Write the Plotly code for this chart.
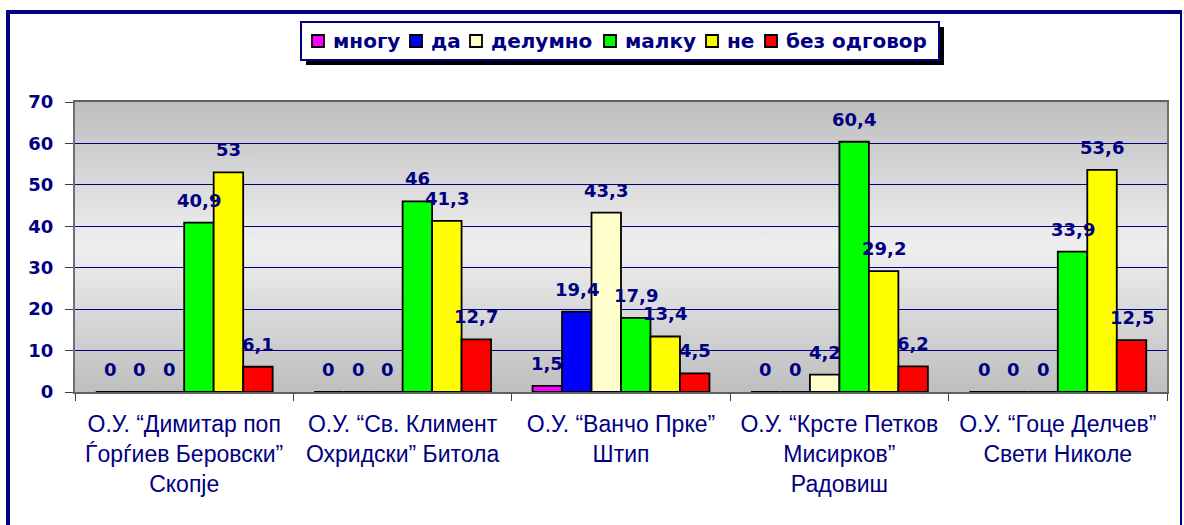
import base64
import plotly.graph_objects as go

# ---------------- data ----------------
categories = [
    "О.У. “Димитар поп<br>Ѓорѓиев Беровски”<br>Скопје",
    "О.У. “Св. Климент<br>Охридски” Битола",
    "О.У. “Ванчо Прке”<br>Штип",
    "О.У. “Крсте Петков<br>Мисирков”<br>Радовиш",
    "О.У. “Гоце Делчев”<br>Свети Николе",
]
series_names = ["многу", "да", "делумно", "малку", "не", "без одговор"]
mnogu = [0, 0, 1.5, 0, 0]
da = [0, 0, 19.4, 0, 0]
delumno = [0, 0, 43.3, 4.2, 0]
malku = [40.9, 46, 17.9, 60.4, 33.9]
ne = [53, 41.3, 13.4, 29.2, 53.6]
bez_odgovor = [6.1, 12.7, 4.5, 6.2, 12.5]
series_values = [mnogu, da, delumno, malku, ne, bez_odgovor]
series_colors = ["#FF00FF", "#0000FF", "#FFFFCC", "#00FF00", "#FFFF00", "#FF0000"]
y_ticks = [0, 10, 20, 30, 40, 50, 60, 70]

# ---------------- layout constants ----------------
W, H = 1184, 525
ML, MR, MT, MB = 75, 17, 102, 133
PW, PH = W - ML - MR, H - MT - MB
BARGAP = 0.19
NAVY = "#000080"
BOLD_FONT = "DejaVu Sans, sans-serif"
# legend box (pixels) and left edges of legend symbols (pixels)
LEG_X0, LEG_X1, LEG_Y0, LEG_Y1 = 301, 939, 22, 60
LEG_SYMBOL_X = [312, 410, 470, 604, 706, 765]
LEG_SYM = 12


def px_to_paper_x(px):
    return (px - ML) / PW


def px_to_paper_y(py):
    return (H - MB - py) / PH


def fmt(v):
    return ("%g" % v).replace(".", ",")


fig = go.Figure()
for name, vals, col in zip(series_names, series_values, series_colors):
    fig.add_trace(go.Bar(
        name=name, x=categories, y=vals,
        marker=dict(color=col, line=dict(color="black", width=1.8)),
        hoverinfo="skip", showlegend=False,
    ))

# data labels
cat_w = PW / len(categories)
bar_w = cat_w * (1 - BARGAP) / len(series_names)
annotations = []
for i, vals in enumerate(series_values):
    for cat, v in zip(categories, vals):
        annotations.append(dict(
            x=cat, y=v, xref="x", yref="y", text="<b>%s</b>" % fmt(v),
            showarrow=False, yanchor="bottom", xanchor="center",
            xshift=(i - (len(series_names) - 1) / 2) * bar_w, yshift=10,
            font=dict(family=BOLD_FONT, size=18, color=NAVY),
        ))

# gradient background for plot area
svg = ('<svg xmlns="http://www.w3.org/2000/svg" width="100" height="100" viewBox="0 0 100 100" '
       'preserveAspectRatio="none"><defs><linearGradient id="g" x1="0" y1="0" x2="0" y2="1">'
       '<stop offset="0" stop-color="#bebebe"/><stop offset="0.5" stop-color="#efefef"/>'
       '<stop offset="1" stop-color="#bebebe"/></linearGradient></defs>'
       '<rect x="0" y="0" width="100" height="100" fill="url(#g)"/></svg>')
src = "data:image/svg+xml;base64," + base64.b64encode(svg.encode()).decode()

shapes = [
    # outer frame (navy)
    dict(type="line", xref="paper", yref="paper", x0=px_to_paper_x(8), x1=px_to_paper_x(8),
         y0=px_to_paper_y(12), y1=px_to_paper_y(560), line=dict(color=NAVY, width=4)),
    dict(type="line", xref="paper", yref="paper", x0=px_to_paper_x(6), x1=px_to_paper_x(1182),
         y0=px_to_paper_y(12), y1=px_to_paper_y(12), line=dict(color=NAVY, width=4)),
    dict(type="line", xref="paper", yref="paper", x0=px_to_paper_x(1181), x1=px_to_paper_x(1181),
         y0=px_to_paper_y(12), y1=px_to_paper_y(560), line=dict(color=NAVY, width=2)),
    # legend shadow and box
    dict(type="rect", xref="paper", yref="paper",
         x0=px_to_paper_x(LEG_X0 + 5), x1=px_to_paper_x(LEG_X1 + 5),
         y0=px_to_paper_y(LEG_Y0 + 5), y1=px_to_paper_y(LEG_Y1 + 5),
         fillcolor="black", line=dict(width=0)),
    dict(type="rect", xref="paper", yref="paper",
         x0=px_to_paper_x(LEG_X0), x1=px_to_paper_x(LEG_X1),
         y0=px_to_paper_y(LEG_Y0), y1=px_to_paper_y(LEG_Y1),
         fillcolor="white", line=dict(color=NAVY, width=2)),
]

# legend entries (symbols + text) built from the series definitions
leg_cy = (LEG_Y0 + LEG_Y1) / 2
for name, col, sx in zip(series_names, series_colors, LEG_SYMBOL_X):
    shapes.append(dict(
        type="rect", xref="paper", yref="paper",
        x0=px_to_paper_x(sx), x1=px_to_paper_x(sx + LEG_SYM),
        y0=px_to_paper_y(leg_cy - LEG_SYM / 2), y1=px_to_paper_y(leg_cy + LEG_SYM / 2),
        fillcolor=col, line=dict(color="black", width=1.8),
    ))
    annotations.append(dict(
        x=px_to_paper_x(sx + LEG_SYM + 7), y=px_to_paper_y(leg_cy), xref="paper", yref="paper",
        text="<b>%s</b>" % name, showarrow=False, xanchor="left", yanchor="middle",
        font=dict(family=BOLD_FONT, size=20, color=NAVY),
    ))

fig.update_layout(
    width=W, height=H,
    margin=dict(l=ML, r=MR, t=MT, b=MB, pad=0),
    paper_bgcolor="white", plot_bgcolor="rgba(0,0,0,0)",
    barmode="group", bargap=BARGAP, bargroupgap=0,
    showlegend=False,
    images=[dict(source=src, xref="paper", yref="paper", x=0, y=1, sizex=1, sizey=1,
                 sizing="stretch", layer="below", xanchor="left", yanchor="top")],
    shapes=shapes,
    annotations=annotations,
    xaxis=dict(
        type="category", showgrid=False, tickson="boundaries", ticks="outside", ticklen=7,
        tickcolor="#404040", showline=True, linecolor="#606060", linewidth=1.5, mirror=True,
        tickfont=dict(family="Liberation Sans, Arial, sans-serif", size=23, color=NAVY),
        ticklabelstandoff=11,
    ),
    yaxis=dict(
        range=[0, 70], tickvals=y_ticks, showgrid=True, gridcolor=NAVY, gridwidth=1,
        ticks="outside", ticklen=8, tickcolor="#404040", showline=True, linecolor="#707070",
        linewidth=2, mirror=True, zeroline=False,
        tickfont=dict(family=BOLD_FONT, size=18, color=NAVY, weight="bold"),
        ticklabelstandoff=8,
    ),
)

fig.write_html("out.html", config={"displayModeBar": False},
               post_script="document.body.style.margin='0px';")
